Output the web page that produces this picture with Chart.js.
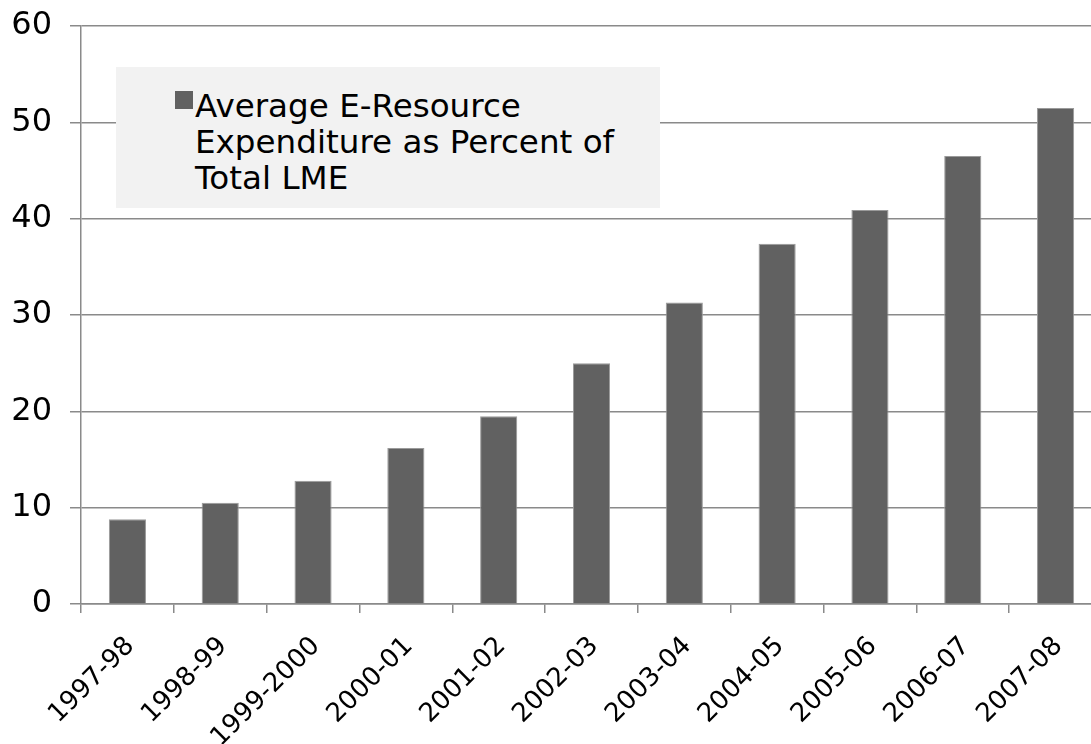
<!DOCTYPE html>
<html><head><meta charset="utf-8">
<script src="https://cdn.jsdelivr.net/npm/chart.js@4.4.1/dist/chart.umd.min.js"></script>
<style>
html,body{margin:0;padding:0;background:#fff;overflow:hidden;}
#wrap{position:relative;width:1091px;height:744px;overflow:hidden;background:#fff;}
#cw{position:absolute;left:0;top:0;width:1104px;height:744px;}
#legend{position:absolute;left:116px;top:67px;width:544px;height:141px;background:#f2f2f2;font-family:"DejaVu Sans",Verdana,sans-serif;font-size:32.6px;line-height:36px;color:#000;}
#legend .sw{position:absolute;left:59px;top:24px;width:18px;height:18px;}
#legend .tx{position:absolute;left:79px;top:21px;white-space:nowrap;}
</style></head><body>
<div id="wrap"><div id="cw"><canvas id="c" width="1104" height="744"></canvas></div><div id="legend"></div></div>
<script>
const categories = ["1997-98","1998-99","1999-2000","2000-01","2001-02","2002-03","2003-04","2004-05","2005-06","2006-07","2007-08"];
const values = [8.8,10.5,12.8,16.2,19.5,25.0,31.3,37.4,40.9,46.5,51.5];
const yTicks = [0,10,20,30,40,50,60];
const legendLines = ["Average E-Resource","Expenditure as Percent of","Total LME"];
const seriesLabel = legendLines.join(" ");
const barColor = "#616161";
const axisColor = "#8a8a8a";

Chart.defaults.font.family = "'DejaVu Sans', Verdana, sans-serif";
Chart.defaults.color = "#000";

// legend (HTML text)
const lg = document.getElementById('legend');
const sw = document.createElement('div'); sw.className='sw'; sw.style.background = barColor; lg.appendChild(sw);
const tx = document.createElement('div'); tx.className='tx';
legendLines.forEach((l,i)=>{ if(i) tx.appendChild(document.createElement('br')); tx.appendChild(document.createTextNode(l)); });
lg.appendChild(tx);

new Chart(document.getElementById('c'), {
  type: 'bar',
  data: {
    labels: categories,
    datasets: [{
      label: seriesLabel,
      data: values,
      backgroundColor: barColor,
      borderColor: "#9a9a9a",
      borderWidth: 1,
      barPercentage: 0.4,
      categoryPercentage: 1.0
    }]
  },
  options: {
    responsive: false,
    devicePixelRatio: 1,
    animation: false,
    layout: { padding: { top: 26, right: 2, left: 0, bottom: 0 } },
    plugins: { legend: { display: false }, tooltip: { enabled: false } },
    scales: {
      x: {
        offset: true,
        grid: { display: true, drawOnChartArea: false, drawTicks: true, tickLength: 9, color: axisColor, lineWidth: 1.5, offset: true },
        border: { display: true, color: axisColor, width: 1.5 },
        ticks: { minRotation: 45, maxRotation: 45, autoSkip: false, font: { size: 26 }, color: "#000", padding: 18, labelOffset: 3 },
        afterFit: s => { s.height = 140; s.paddingLeft = 0; s.paddingRight = 0; }
      },
      y: {
        min: 0, max: 60,
        afterBuildTicks: s => { s.ticks = yTicks.map(v => ({ value: v })); },
        grid: { color: axisColor, lineWidth: 1.5, tickLength: 11, drawTicks: true },
        border: { display: true, color: axisColor, width: 1.5 },
        ticks: { font: { size: 32 }, color: "#000", padding: 18 },
        afterFit: s => { s.width = 81; s.paddingTop = 0; s.paddingBottom = 0; }
      }
    }
  }
});
</script>
</body></html>
